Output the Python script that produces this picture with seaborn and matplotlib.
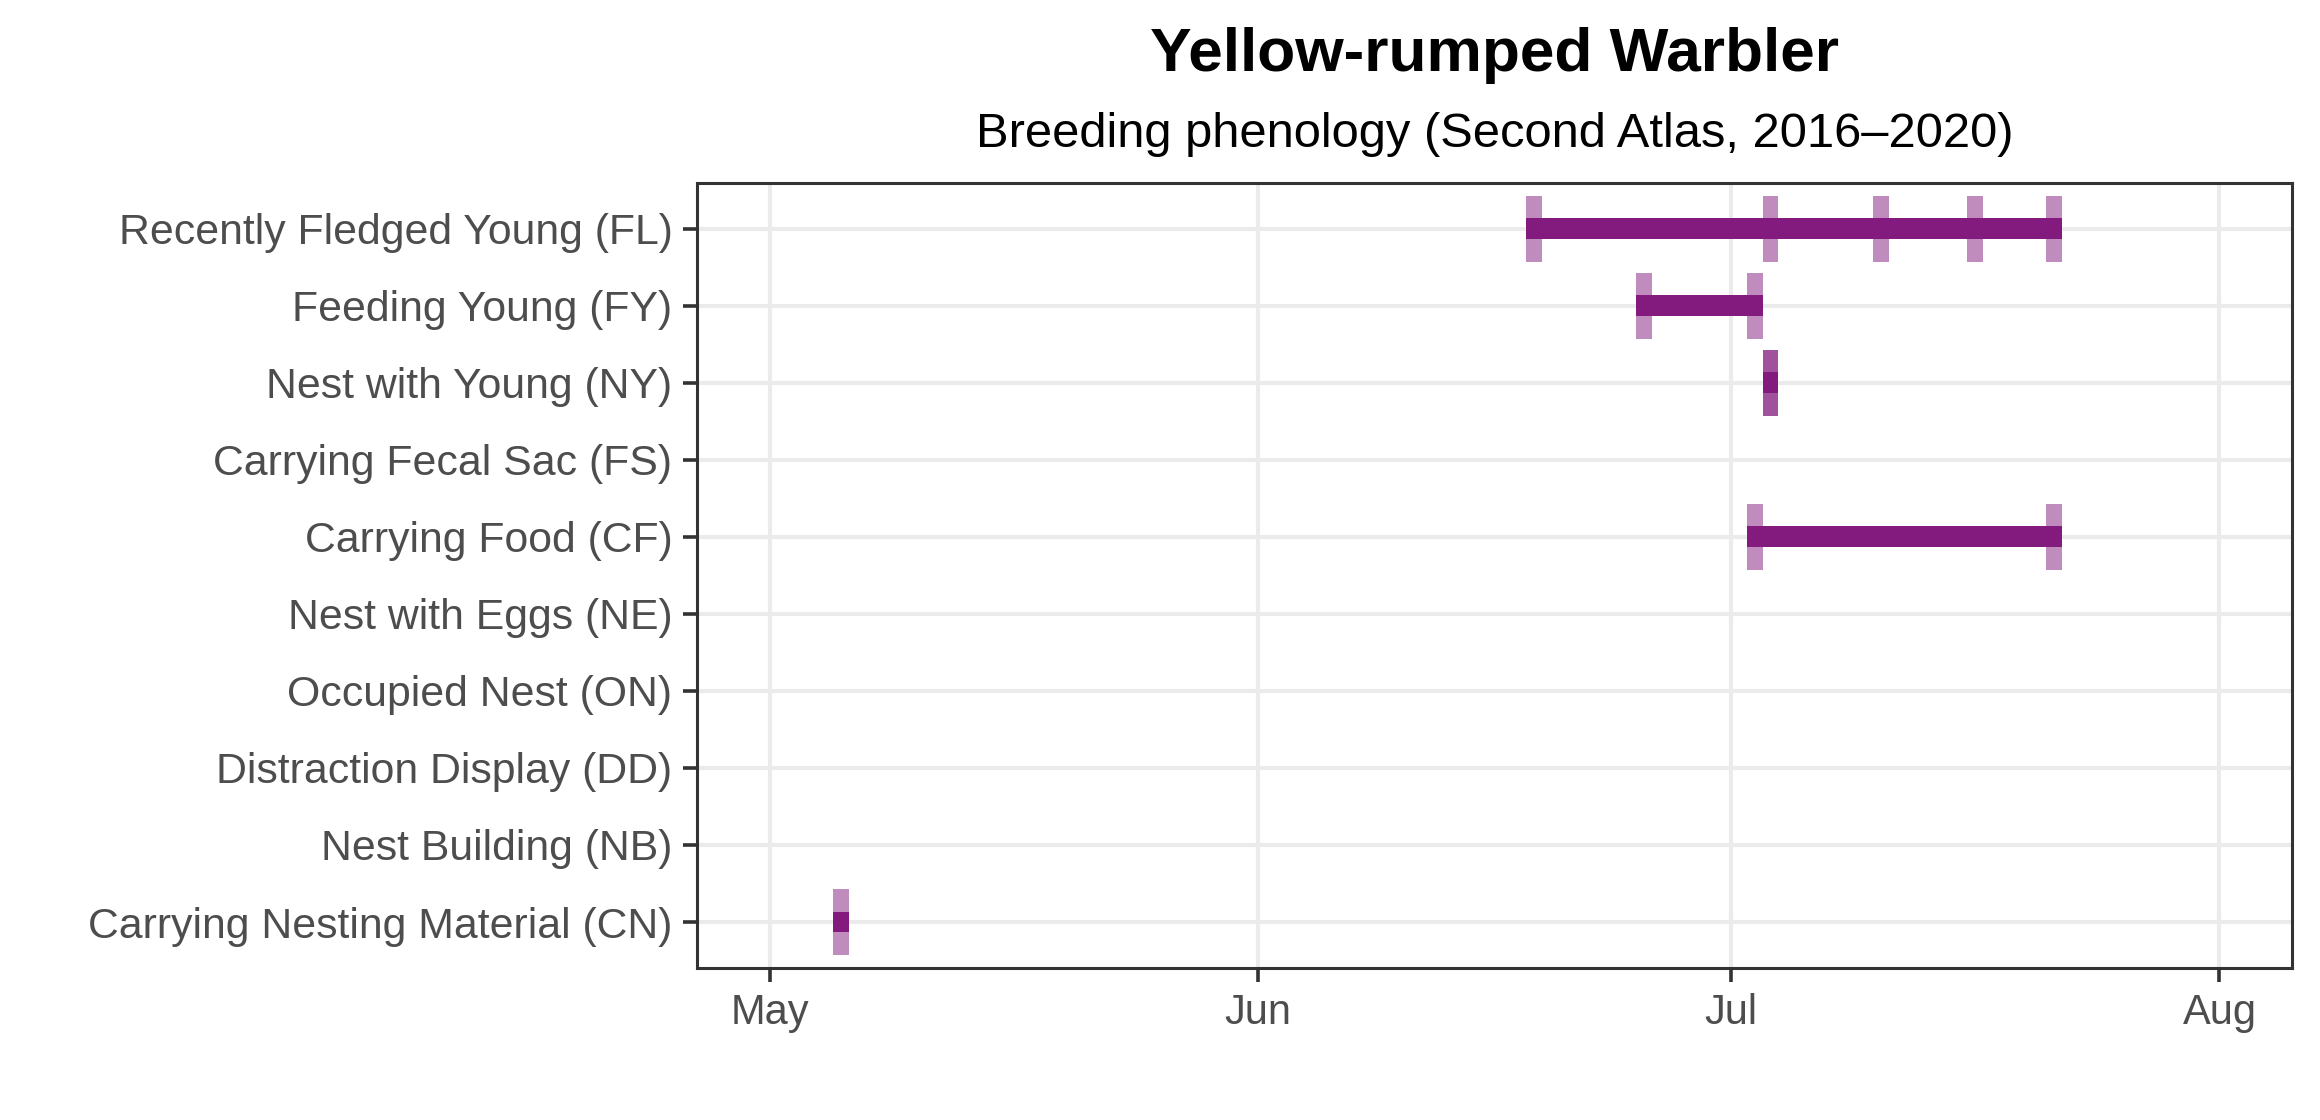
"""
Fenologia de reprodução - Yellow-rumped Warbler (Second Atlas).
"""

import matplotlib
matplotlib.use("Agg")
import matplotlib.pyplot as plt
import matplotlib.dates as mdates
import seaborn as sns
import numpy as np
import pandas as pd

# Códigos de reprodução (de cima para baixo)
behaviours = [
    "Recently Fledged Young (FL)",
    "Feeding Young (FY)",
    "Nest with Young (NY)",
    "Carrying Fecal Sac (FS)",
    "Carrying Food (CF)",
    "Nest with Eggs (NE)",
    "Occupied Nest (ON)",
    "Distraction Display (DD)",
    "Nest Building (NB)",
    "Carrying Nesting Material (CN)",
]

# Datas das observações por código
obs_fl = ["2020-06-18", "2020-07-03", "2020-07-10", "2020-07-16", "2020-07-21"]
obs_fy = ["2020-06-25", "2020-07-02"]
obs_ny = ["2020-07-03", "2020-07-03"]
obs_fs = []
obs_cf = ["2020-07-02", "2020-07-21"]
obs_ne = []
obs_on = []
obs_dd = []
obs_nb = []
obs_cn = ["2020-05-05"]

observations = [obs_fl, obs_fy, obs_ny, obs_fs, obs_cf, obs_ne, obs_on, obs_dd, obs_nb, obs_cn]

month_ticks = ["2020-05-01", "2020-06-01", "2020-07-01", "2020-08-01"]
month_labels = ["May", "Jun", "Jul", "Aug"]

purple = "#831a7d"

sns.set_theme(style="whitegrid")
plt.rcParams["font.family"] = ["Liberation Sans", "DejaVu Sans"]

fig, ax = plt.subplots(figsize=(11.6, 5.6), dpi=200)
left, right = 0.3006, 0.9879
fig.subplots_adjust(left=left, right=right, top=0.837, bottom=0.1355)

n = len(behaviours)
for i, dates in enumerate(observations):
    if not dates:
        continue
    y = n - 1 - i
    days = mdates.date2num(pd.to_datetime(dates))
    # Marcas de cada observação (1 dia de largura)
    ax.bar(days, 0.86, width=1, bottom=y - 0.43, align="edge",
           color=purple, alpha=0.5, linewidth=0, zorder=3)
    # Barra do primeiro ao último registro
    ax.barh(y, days.max() + 1 - days.min(), left=days.min(), height=0.27,
            color=purple, linewidth=0, zorder=4)

x0 = mdates.date2num(pd.Timestamp(month_ticks[0]))
x1 = mdates.date2num(pd.Timestamp(month_ticks[-1]))
pad = (x1 - x0) * 0.05
ax.set_xlim(x0 - pad, x1 + pad)
ax.set_ylim(-0.6, n - 0.4)

ax.set_xticks(mdates.date2num(pd.to_datetime(month_ticks)))
ax.set_xticklabels(month_labels, fontsize=15)
ax.set_yticks(range(n))
ax.set_yticklabels(behaviours[::-1], fontsize=15.4)

ax.tick_params(axis="both", which="major", labelcolor="#4d4d4d",
               length=5, width=1.3, color="#333333", pad=4, left=True, bottom=True)
ax.grid(True, color="#ebebeb", linewidth=1.5)
ax.set_axisbelow(True)
for spine in ax.spines.values():
    spine.set_edgecolor("#333333")
    spine.set_linewidth(1.1)
ax.set_xlabel("")
ax.set_ylabel("")

cx = (left + right) / 2
fig.text(cx, 0.950, "Yellow-rumped Warbler", ha="center", va="center",
         fontsize=22.4, fontweight="bold", color="black")
fig.text(cx, 0.880, "Breeding phenology (Second Atlas, 2016–2020)",
         ha="center", va="center", fontsize=17.6, color="black")

fig.savefig("out.png", dpi=200)
